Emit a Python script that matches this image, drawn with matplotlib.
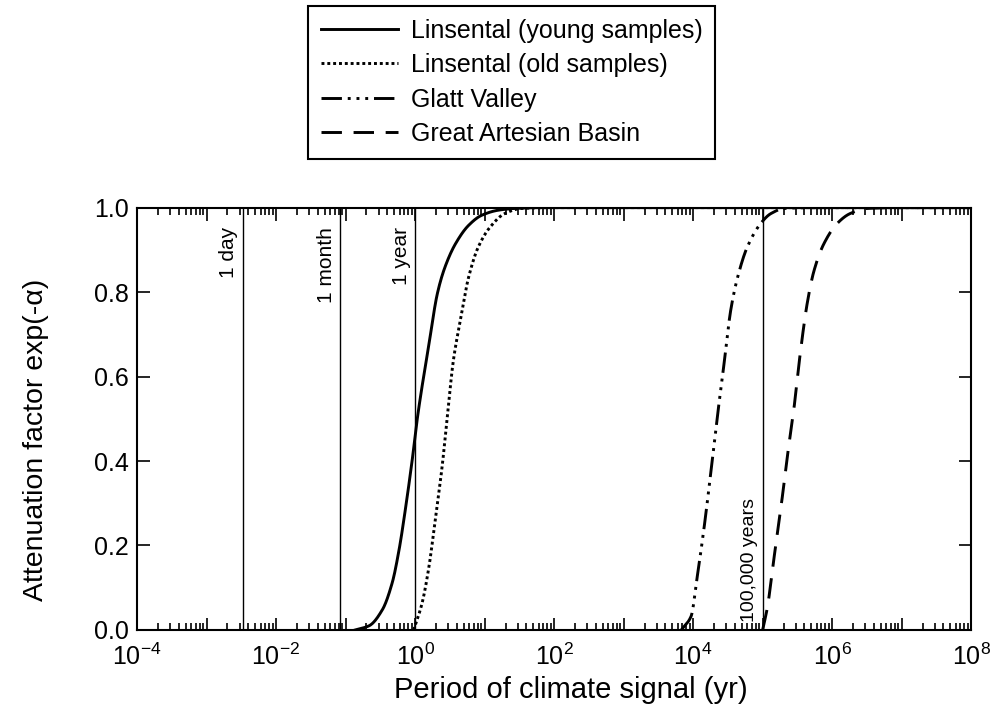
import numpy as np
import matplotlib
matplotlib.use("Agg")
import matplotlib.pyplot as plt
from matplotlib.ticker import LogLocator, FixedLocator, NullFormatter, FuncFormatter

plt.rcParams['font.family'] = ['Liberation Sans', 'DejaVu Sans']
plt.rcParams['mathtext.fontset'] = 'custom'
plt.rcParams['mathtext.rm'] = 'Liberation Sans'
plt.rcParams['mathtext.it'] = 'Liberation Sans:italic'

# curves: log10(period in yr) and attenuation factor
young_logT = [-0.86, -0.66, -0.47, -0.33, -0.23, -0.14, -0.04, 0.04, 0.20,
              0.32, 0.43, 0.58, 0.77, 0.96, 1.20, 1.43, 1.8, 8.0]
young_val = [0.0, 0.01, 0.048, 0.111, 0.19, 0.285, 0.404, 0.51, 0.677,
             0.796, 0.859, 0.914, 0.958, 0.982, 0.994, 0.998, 1.0, 1.0]

old_logT = [-0.02, 0.10, 0.20, 0.29, 0.39, 0.47, 0.55, 0.65, 0.77, 0.91,
            1.08, 1.29, 1.53, 1.9, 8.0]
old_val = [0.0, 0.063, 0.15, 0.261, 0.388, 0.515, 0.637, 0.732, 0.835, 0.907,
           0.954, 0.986, 0.998, 1.0, 1.0]

glatt_logT = [3.83, 3.97, 4.06, 4.16, 4.26, 4.36, 4.45, 4.54, 4.64,
              4.78, 4.97, 5.12, 5.31, 5.7, 8.0]
glatt_val = [0.0, 0.032, 0.127, 0.245, 0.38, 0.52, 0.637, 0.756, 0.835,
             0.907, 0.962, 0.986, 0.998, 1.0, 1.0]

gab_logT = [5.0, 5.07, 5.16, 5.26, 5.35, 5.445, 5.54, 5.64, 5.74,
            5.88, 6.07, 6.26, 6.5, 6.9, 8.0]
gab_val = [0.0, 0.055, 0.166, 0.285, 0.404, 0.517, 0.653, 0.772, 0.851,
           0.914, 0.962, 0.986, 0.998, 1.0, 1.0]

names = ["Linsental (young samples)", "Linsental (old samples)",
         "Glatt Valley", "Great Artesian Basin"]

# reference periods (yr)
marker_T = [0.0033, 1 / 12, 1.0, 1e5]
marker_labels = ["1 day", "1 month", "1 year", "100,000 years"]


def smooth(logT, val):
    # monotone cubic through the read points so the curve is drawn smooth
    x = np.array(logT)
    y = np.array(val)
    xs = np.linspace(x[0], x[-1], 1500)
    h = np.diff(x)
    d = np.diff(y) / h
    m = np.zeros_like(y)
    for i in range(1, len(y) - 1):
        if d[i - 1] * d[i] > 0:
            m[i] = 2 / (1 / d[i - 1] + 1 / d[i])
    m[0] = d[0]
    m[-1] = d[-1]
    idx = np.clip(np.searchsorted(x, xs) - 1, 0, len(h) - 1)
    t = (xs - x[idx]) / h[idx]
    h00 = 2 * t**3 - 3 * t**2 + 1
    h10 = t**3 - 2 * t**2 + t
    h01 = -2 * t**3 + 3 * t**2
    h11 = t**3 - t**2
    ys = h00 * y[idx] + h10 * h[idx] * m[idx] + h01 * y[idx + 1] + h11 * h[idx] * m[idx + 1]
    return 10 ** xs, np.clip(ys, 0, 1)


fig = plt.figure(figsize=(9.93, 7.11), dpi=100)
ax = fig.add_axes([0.138, 0.114, 0.840, 0.594])

styles = [
    dict(ls='-'),
    dict(ls=(0, (1, 1))),
    dict(ls=(0, (7, 2, 1, 2, 1, 2, 1, 2))),
    dict(ls=(0, (7, 4))),
]
series = [(young_logT, young_val), (old_logT, old_val),
          (glatt_logT, glatt_val), (gab_logT, gab_val)]
lines = []
for (lx, lv), st, nm in zip(series, styles, names):
    xs, ys = smooth(lx, lv)
    ln, = ax.plot(xs, ys, color='black', lw=2.1, label=nm, **st)
    lines.append(ln)

for T in marker_T:
    ax.axvline(T, color='black', lw=1.0, zorder=1)
for T, lab in zip(marker_T[:3], marker_labels[:3]):
    ax.annotate(lab, xy=(T, 1.0), xycoords=('data', 'axes fraction'),
                xytext=(-3, -14), textcoords='offset points',
                rotation=90, ha='right', va='top', fontsize=15)
ax.annotate(marker_labels[3], xy=(marker_T[3], 0.0), xycoords=('data', 'axes fraction'),
            xytext=(-3, 6), textcoords='offset points',
            rotation=90, ha='right', va='bottom', fontsize=14)

ax.set_xscale('log')
ax.set_xlim(1e-4, 1e8)
ax.set_ylim(0, 1)

ax.xaxis.set_major_locator(FixedLocator([10.0**k for k in range(-4, 9)]))
ax.xaxis.set_minor_locator(LogLocator(base=10, subs=np.arange(2, 10), numticks=100))
ax.xaxis.set_minor_formatter(NullFormatter())


def fmt(v, pos):
    k = int(round(np.log10(v)))
    return r'$10^{%d}$' % k if k % 2 == 0 else ''


ax.xaxis.set_major_formatter(FuncFormatter(fmt))
ax.set_yticks([0, 0.2, 0.4, 0.6, 0.8, 1.0])
ax.set_yticklabels(['0.0', '0.2', '0.4', '0.6', '0.8', '1.0'])

ax.tick_params(which='both', direction='in', top=True, right=True, labelsize=18, width=1.2)
ax.tick_params(which='major', length=9)
ax.tick_params(which='minor', length=5)
ax.tick_params(axis='x', pad=10)
ax.tick_params(axis='y', pad=6)
for sp in ax.spines.values():
    sp.set_linewidth(1.5)

ax.set_xlabel("Period of climate signal (yr)", fontsize=21)
ax.xaxis.set_label_coords(0.52, -0.108)
ax.set_ylabel("Attenuation factor exp(-α)", fontsize=20.5)
ax.yaxis.set_label_coords(-0.106, 0.45)

leg = fig.legend(handles=lines, loc='upper center', bbox_to_anchor=(0.515, 1.009),
                 fontsize=18, frameon=True, fancybox=False, edgecolor='black',
                 framealpha=1, handlelength=3.1, handletextpad=0.5,
                 labelspacing=0.42, borderpad=0.5)
leg.get_frame().set_linewidth(1.5)

plt.savefig("out.png", dpi=100)
